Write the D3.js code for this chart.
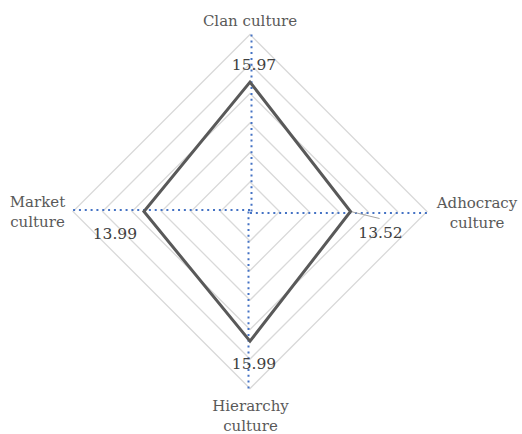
<!DOCTYPE html>
<html>
<head>
<meta charset="utf-8">
<script src="https://cdn.jsdelivr.net/npm/d3@7"></script>
<style>
  body { margin: 0; background: #fff; }
  text { font-family: "DejaVu Serif", serif; fill: #595959; }
</style>
</head>
<body>
<div id="chart"></div>
<script>
// data
var categories = ["Clan culture", "Adhocracy culture", "Hierarchy culture", "Market culture"];
var labelLines = [["Clan culture"], ["Adhocracy", "culture"], ["Hierarchy", "culture"], ["Market", "culture"]];
var values = [15.97, 13.52, 15.99, 13.99];
var ringTicks = [5, 7.5, 10, 12.5, 15, 17.5, 20];

var width = 522, height = 434,
    cx = 250, cy = 211.5,
    radius = 177;

var svg = d3.select('#chart').append('svg')
    .attr('width', width)
    .attr('height', height);

var r = d3.scaleLinear().domain([5, 20]).range([0, radius]);
var angle = d3.scalePoint().domain(categories).range([0, 2 * Math.PI * 3 / 4]);

function pt(cat, v) {
  var a = angle(cat);
  return [cx + Math.sin(a) * r(v), cy - Math.cos(a) * r(v)];
}

// grid rings
svg.selectAll('polygon.ring').data(ringTicks.slice(1))
  .enter().append('polygon')
  .attr('class', 'ring')
  .attr('points', function (t) {
    return categories.map(function (c) { return pt(c, t).join(','); }).join(' ');
  })
  .style('fill', 'none')
  .style('stroke', '#d9d9d9')
  .style('stroke-width', 1.3);

// dotted spokes
svg.selectAll('line.spoke').data(categories)
  .enter().append('line')
  .attr('class', 'spoke')
  .each(function (c) {
    var a = angle(c), dx = Math.sin(a), dy = -Math.cos(a);
    var ox = -dy * 1.5, oy = dx * 1.5;
    var end = pt(c, 20);
    d3.select(this)
      .attr('x1', cx + ox).attr('y1', cy + oy)
      .attr('x2', end[0] + ox).attr('y2', end[1] + oy);
  })
  .style('stroke', '#4472c4')
  .style('stroke-width', 2)
  .style('stroke-dasharray', '2,3.83');

// leader line for the Adhocracy label
var pA = pt(categories[1], values[1]);
svg.append('line')
  .attr('x1', pA[0]).attr('y1', pA[1])
  .attr('x2', pA[0] + 29).attr('y2', pA[1] + 7)
  .style('stroke', '#a6a6a6')
  .style('stroke-width', 1);

// series
svg.append('polygon')
  .attr('points', categories.map(function (c, i) { return pt(c, values[i]).join(','); }).join(' '))
  .style('fill', 'none')
  .style('stroke', '#595959')
  .style('stroke-width', 3)
  .style('stroke-linejoin', 'miter');

// category labels
var catPos = [
  { x: 250, y: 26 },
  { x: 477, y: 207.5 },
  { x: 250.5, y: 410.5 },
  { x: 37.5, y: 206.5 }
];
categories.forEach(function (c, i) {
  var t = svg.append('text')
    .attr('x', catPos[i].x)
    .attr('y', catPos[i].y)
    .attr('text-anchor', 'middle')
    .style('font-size', '15px');
  labelLines[i].forEach(function (line, j) {
    t.append('tspan')
      .attr('x', catPos[i].x)
      .attr('dy', j === 0 ? 0 : 20.5)
      .text(line);
  });
});

// value labels
var valOff = [[4, -12], [30, 26], [4, 28], [-29, 27]];
categories.forEach(function (c, i) {
  var p = pt(c, values[i]);
  svg.append('text')
    .attr('x', p[0] + valOff[i][0])
    .attr('y', p[1] + valOff[i][1])
    .attr('text-anchor', 'middle')
    .style('font-size', '15.5px')
    .style('fill', '#404040')
    .text(values[i].toFixed(2));
});
</script>
</body>
</html>
